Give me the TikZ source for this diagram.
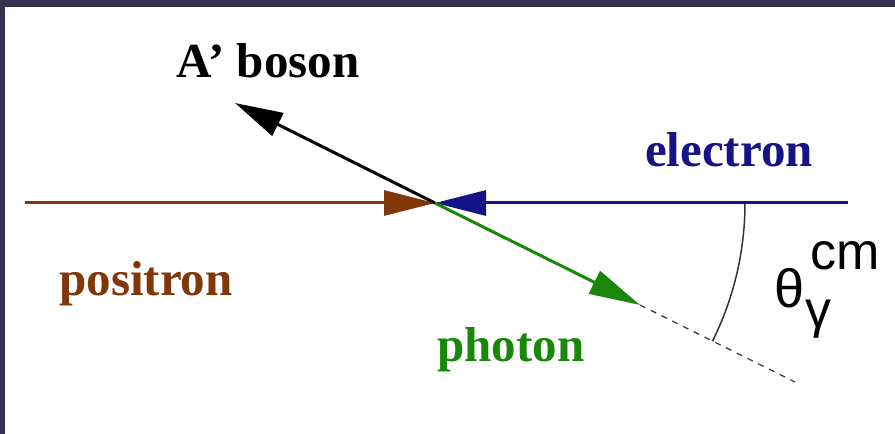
\documentclass[tikz,border=0pt]{standalone}
\usepackage{fontspec}
\setmainfont{Liberation Serif}
\newfontfamily\labsans{Liberation Sans}
\usetikzlibrary{arrows.meta}
\definecolor{framec}{RGB}{53,51,79}
\definecolor{posc}{RGB}{130,55,10}
\definecolor{elec}{RGB}{20,20,135}
\definecolor{phoc}{RGB}{25,135,10}
\tikzset{
  track/.style={line width=3pt,-{Triangle[length=51pt,width=25pt]}},
  lab/.style={font=\fontsize{49}{55}\selectfont\bfseries,anchor=base,inner sep=0pt},
  anglab/.style={font=\labsans\fontsize{52}{58}\selectfont,anchor=base west,inner sep=0pt},
}
\begin{document}
\begin{tikzpicture}[x=1pt,y=1pt]
\useasboundingbox (0,0) rectangle (895,434);
\fill[framec] (0,0) rectangle (895,434);
\fill[white] (5,0) rectangle (895,427);
% coordinates
\coordinate (V) at (435,231);
\coordinate (P) at (25,231);
\coordinate (E) at (848,231);
\coordinate (B) at (235,331);
\coordinate (G) at (640,129);
\coordinate (D) at (795,52);
% dashed continuation and angle arc
\draw[line width=1.3pt,dash pattern=on 6pt off 6pt,black!75] (G) -- (D);
\draw[line width=1.5pt,black!80] (V) ++(0:310) arc[start angle=0,end angle=-26.5,radius=310];
% tracks
\draw[track,posc] (P) -- (V);
\draw[track,elec] (E) -- (V);
\draw[track,black,-{Triangle[length=48pt,width=25pt]}] (V) -- (B);
\draw[track,phoc] (V) -- (G);
% labels
\node[lab,black] (lb) at (268,356) {A’ boson};
\node[lab,elec] (le) at (729,267) {electron};
\node[lab,posc] (lp) at (146,138) {positron};
\node[lab,phoc] (lg) at (511,72) {photon};
\node[anglab,font=\labsans\fontsize{54}{60}\selectfont] (lt) at (774,126) {θ};
\node[anglab] (lc) at (810,164) {cm};
\node[anglab] (ly) at (805,106) {γ};
\end{tikzpicture}
\end{document}
